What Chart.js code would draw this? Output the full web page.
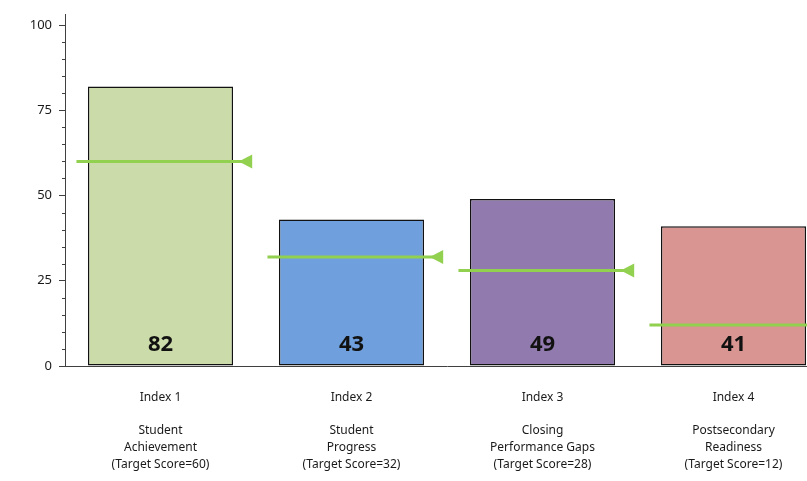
<!DOCTYPE html>
<html>
<head>
<meta charset="utf-8">
<script src="https://cdn.jsdelivr.net/npm/chart.js@4/dist/chart.umd.min.js"></script>
<style>
    html, body { margin: 0; padding: 0; background: #ffffff; overflow: hidden; }
    #wrap { width: 834px; height: 481px; }
</style>
</head>
<body>
<div id="wrap"><canvas id="scoreChart"></canvas></div>
<script>
// ===== DATA =====
const indexNames = ["Index 1", "Index 2", "Index 3", "Index 4"];
const indexTitles = [
    ["Student", "Achievement"],
    ["Student", "Progress"],
    ["Closing", "Performance Gaps"],
    ["Postsecondary", "Readiness"]
];
const scores = [82, 43, 49, 41];
const targets = [60, 32, 28, 12];
const barColors = ["#cbdba9", "#6f9fdc", "#917bae", "#d99591"];
const yTicks = [0, 25, 50, 75, 100];

const labels = indexNames.map((name, i) =>
    [name, "", ...indexTitles[i], "(Target Score=" + targets[i] + ")"]);

const FONT = "'Noto Sans', 'Open Sans', sans-serif";

// Targets, value labels and minor ticks
const overlayPlugin = {
    id: "overlay",
    afterDatasetsDraw(chart) {
        const ctx = chart.ctx;
        const x = chart.scales.x;
        const y = chart.scales.y;
        const w = x.getPixelForValue(1) - x.getPixelForValue(0);

        ctx.save();

        // minor ticks on y axis
        ctx.strokeStyle = "#404040";
        ctx.lineWidth = 1;
        for (let v = 5; v < 100; v += 5) {
            if (v % 25 === 0) continue;
            const py = Math.round(y.getPixelForValue(v)) + 0.5;
            ctx.beginPath();
            ctx.moveTo(chart.chartArea.left - 3, py);
            ctx.lineTo(chart.chartArea.left, py);
            ctx.stroke();
        }

        // value labels
        ctx.fillStyle = "#111111";
        ctx.font = "bold 22px " + FONT;
        ctx.textAlign = "center";
        ctx.textBaseline = "alphabetic";
        scores.forEach((s, i) => {
            ctx.fillText(String(s), x.getPixelForValue(i), y.getPixelForValue(0) - 15);
        });

        // target lines with arrow
        ctx.strokeStyle = "#92d050";
        ctx.fillStyle = "#92d050";
        ctx.lineWidth = 3;
        targets.forEach((t, i) => {
            const cx = x.getPixelForValue(i);
            const py = y.getPixelForValue(t);
            ctx.beginPath();
            ctx.moveTo(cx - 0.44 * w, py);
            ctx.lineTo(cx + 0.44 * w, py);
            ctx.stroke();

            ctx.beginPath();
            ctx.moveTo(cx + 0.41 * w, py);
            ctx.lineTo(cx + 0.48 * w, py - 7);
            ctx.lineTo(cx + 0.48 * w, py + 7);
            ctx.closePath();
            ctx.fill();
        });

        ctx.restore();
    }
};

const ctx = document.getElementById("scoreChart").getContext("2d");

new Chart(ctx, {
    type: "bar",
    data: {
        labels: labels,
        datasets: [{
            data: scores,
            backgroundColor: barColors,
            borderColor: "#111111",
            borderWidth: 1.5,
            borderSkipped: false,
            barPercentage: 0.76,
            categoryPercentage: 1
        }]
    },
    options: {
        responsive: true,
        maintainAspectRatio: false,
        animation: false,
        layout: {
            padding: { top: 11, right: 5, left: 0, bottom: 0 }
        },
        plugins: {
            legend: { display: false },
            tooltip: { enabled: false }
        },
        scales: {
            x: {
                grid: { display: false, drawTicks: false },
                border: { display: true, color: "#404040", width: 1 },
                ticks: {
                    padding: 23,
                    color: "#1a1a1a",
                    maxRotation: 0,
                    autoSkip: false,
                    font: { family: FONT, size: 12, lineHeight: 1.4 }
                },
                afterFit: s => { s.height = 115; }
            },
            y: {
                min: 0,
                max: 103,
                afterBuildTicks: s => { s.ticks = yTicks.map(v => ({ value: v })); },
                grid: {
                    display: true,
                    drawOnChartArea: false,
                    tickLength: 6,
                    tickColor: "#404040"
                },
                border: { display: true, color: "#404040", width: 1 },
                ticks: {
                    padding: 7,
                    color: "#1a1a1a",
                    font: { family: FONT, size: 13 }
                },
                afterFit: s => { s.width = 65; }
            }
        }
    },
    plugins: [overlayPlugin]
});
</script>
</body>
</html>
